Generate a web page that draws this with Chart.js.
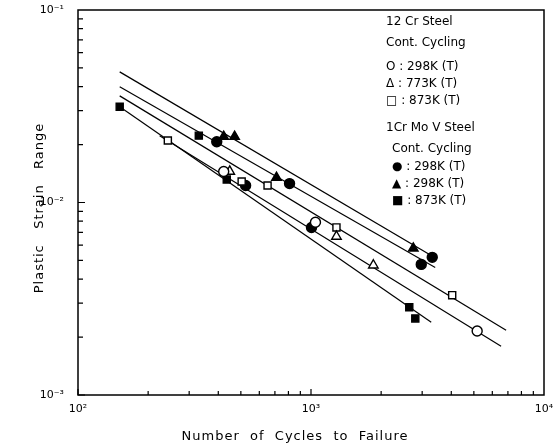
<!DOCTYPE html>
<html>
<head>
<meta charset="utf-8">
<script src="https://cdn.jsdelivr.net/npm/chart.js@4.4.1/dist/chart.umd.min.js"></script>
<style>
html, body { margin: 0; padding: 0; background: #fff; }
</style>
</head>
<body>
<canvas id="lcf" width="557" height="447"></canvas>
<script>
// 12 Cr steel, continuous cycling
const cr12_298_N = [422, 1045, 5166];
const cr12_298_ep = [0.0145, 0.0079, 0.00215];
const cr12_773_N = [448, 1286, 1852];
const cr12_773_ep = [0.0145, 0.00666, 0.00472];
const cr12_873_N = [243, 504, 651, 1286, 4036];
const cr12_873_ep = [0.021, 0.01285, 0.01225, 0.00742, 0.0033];

// 1Cr Mo V steel, continuous cycling
const crmov_298c_N = [394, 524, 809, 1005, 2973, 3314];
const crmov_298c_ep = [0.0207, 0.01225, 0.01254, 0.00742, 0.00477, 0.00519];
const crmov_298t_N = [422, 470, 711, 2748];
const crmov_298t_ep = [0.022, 0.022, 0.01348, 0.00578];
const crmov_873_N = [151, 330, 435, 2641, 2803];
const crmov_873_ep = [0.0314, 0.02225, 0.01316, 0.00286, 0.0025];

// fitted lines, end points (cycles, strain range)
const fitTriN = [151, 3281], fitTriEp = [0.0477, 0.00531];
const fitDotN = [151, 3413], fitDotEp = [0.0399, 0.0046];
const fitSqN = [151, 6877], fitSqEp = [0.0358, 0.00217];
const fitCircN = [224, 6543], fitCircEp = [0.0222, 0.00179];
const fitBoxN = [151, 3281], fitBoxEp = [0.0314, 0.00239];

const xTickValues = [100, 1000, 10000];
const xTickLabels = ['10²', '10³', '10⁴'];
const yTickValues = [0.001, 0.01, 0.1];
const yTickLabels = ['10⁻³', '10⁻²', '10⁻¹'];

const legendLines = [
  ['12 Cr Steel', 386, 22],
  ['Cont. Cycling', 386, 43],
  ['O : 298K (T)', 386, 67],
  ['Δ : 773K (T)', 386, 84],
  ['□ : 873K (T)', 386, 101],
  ['1Cr Mo V Steel', 386, 128],
  ['Cont. Cycling', 392, 149],
  ['● : 298K (T)', 392, 167],
  ['▲ : 298K (T)', 392, 184],
  ['■ : 873K (T)', 392, 201]
];

const FONT = '"DejaVu Sans", sans-serif';

function pts(xs, ys) {
  return xs.map((x, i) => ({ x: x, y: ys[i] }));
}

function markers(xs, ys, style, filled, r) {
  return {
    data: pts(xs, ys),
    pointStyle: style,
    pointRadius: r,
    pointBackgroundColor: filled ? '#000' : '#fff',
    pointBorderColor: '#000',
    pointBorderWidth: 1.4,
    showLine: false,
    order: 0
  };
}

function fit(xs, ys) {
  return {
    data: pts(xs, ys),
    showLine: true,
    borderColor: '#000',
    borderWidth: 1.2,
    pointRadius: 0,
    order: 5
  };
}

// frame, inward log ticks, axis titles and the key text
const paperPlugin = {
  id: 'paper',
  afterDraw(chart) {
    const ctx = chart.ctx;
    const a = chart.chartArea;
    const xs = chart.scales.x, ys = chart.scales.y;
    ctx.save();
    ctx.strokeStyle = '#000';
    ctx.lineWidth = 1.5;
    ctx.strokeRect(a.left, a.top, a.right - a.left, a.bottom - a.top);

    ctx.lineWidth = 1.2;
    ctx.beginPath();
    for (let k = 2; k < 4; k++) {
      for (let m = 1; m < 10; m++) {
        const px = xs.getPixelForValue(m * Math.pow(10, k));
        const len = m === 1 ? 6 : 4;
        ctx.moveTo(px, a.bottom);
        ctx.lineTo(px, a.bottom - len);
      }
    }
    for (let k = -3; k < -1; k++) {
      for (let m = 1; m < 10; m++) {
        const py = ys.getPixelForValue(m * Math.pow(10, k));
        const len = m === 1 ? 7 : 5;
        ctx.moveTo(a.left, py);
        ctx.lineTo(a.left + len, py);
      }
    }
    ctx.stroke();

    ctx.fillStyle = '#000';
    ctx.textBaseline = 'middle';
    ctx.textAlign = 'center';
    ctx.font = '13px ' + FONT;
    ctx.letterSpacing = '1px';
    ctx.fillText('Number  of  Cycles  to  Failure', 295, 437);
    ctx.save();
    ctx.translate(40, 208);
    ctx.rotate(-Math.PI / 2);
    ctx.fillText('Plastic   Strain   Range', 0, 0);
    ctx.restore();

    ctx.letterSpacing = '0px';
    ctx.font = '12px ' + FONT;
    ctx.textAlign = 'left';
    legendLines.forEach(l => ctx.fillText(l[0], l[1], l[2]));
    ctx.restore();
  }
};

new Chart(document.getElementById('lcf'), {
  type: 'scatter',
  data: {
    datasets: [
      markers(cr12_298_N, cr12_298_ep, 'circle', false, 5),
      markers(cr12_773_N, cr12_773_ep, 'triangle', false, 5.5),
      markers(cr12_873_N, cr12_873_ep, 'rect', false, 5),
      markers(crmov_298c_N, crmov_298c_ep, 'circle', true, 5),
      markers(crmov_298t_N, crmov_298t_ep, 'triangle', true, 5.5),
      markers(crmov_873_N, crmov_873_ep, 'rect', true, 5),
      fit(fitTriN, fitTriEp),
      fit(fitDotN, fitDotEp),
      fit(fitSqN, fitSqEp),
      fit(fitCircN, fitCircEp),
      fit(fitBoxN, fitBoxEp)
    ]
  },
  options: {
    responsive: false,
    devicePixelRatio: 1,
    animation: false,
    layout: { autoPadding: false, padding: { left: 0, right: 13, top: 10, bottom: 0 } },
    plugins: { legend: { display: false }, tooltip: { enabled: false } },
    scales: {
      x: {
        type: 'logarithmic',
        min: 100,
        max: 10000,
        grid: { display: false, drawTicks: false },
        border: { display: false },
        afterBuildTicks: s => { s.ticks = xTickValues.map(v => ({ value: v })); },
        afterFit: s => {
          s.height = 52;
          s.paddingLeft = 0;
          s.paddingRight = 0;
        },
        ticks: {
          color: '#000',
          font: { family: FONT, size: 11 },
          padding: 8,
          maxRotation: 0,
          callback: (v, i) => xTickLabels[i]
        }
      },
      y: {
        type: 'logarithmic',
        min: 0.001,
        max: 0.1,
        grid: { display: false, drawTicks: false },
        border: { display: false },
        afterBuildTicks: s => { s.ticks = yTickValues.map(v => ({ value: v })); },
        afterFit: s => {
          s.width = 78;
          s.paddingTop = 0;
          s.paddingBottom = 0;
        },
        ticks: {
          color: '#000',
          font: { family: FONT, size: 11 },
          padding: 14,
          callback: (v, i) => yTickLabels[i]
        }
      }
    }
  },
  plugins: [paperPlugin]
});
</script>
</body>
</html>
